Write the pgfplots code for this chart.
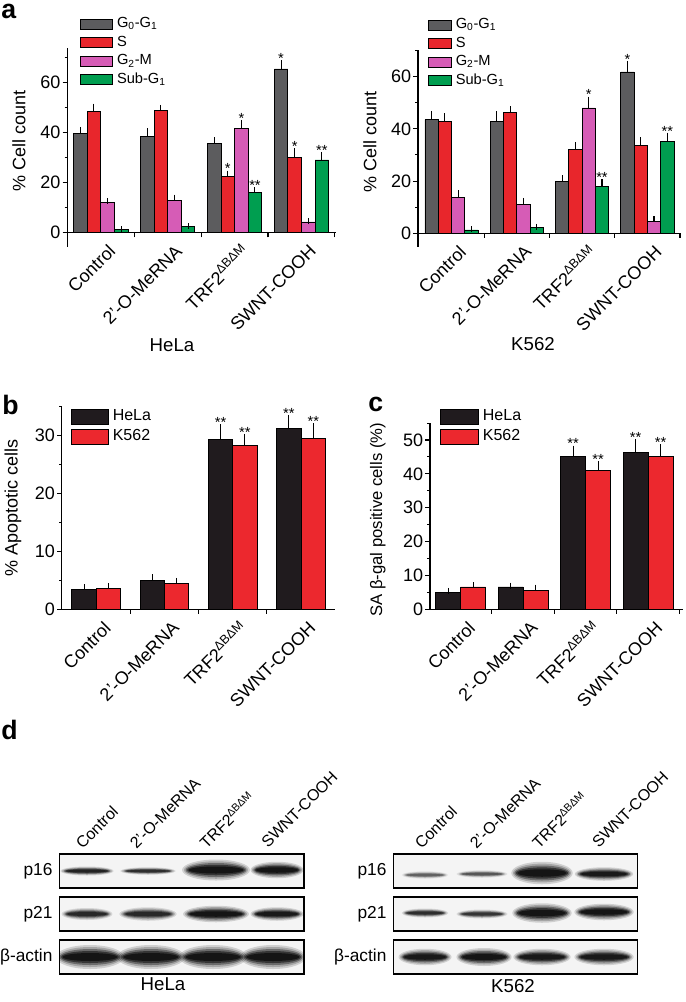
\documentclass[border=0pt]{standalone}
\usepackage{fontspec}
\setmainfont{Liberation Sans}
\usepackage{pgfplots}
\usepackage{pgfplotstable}
\pgfplotsset{compat=1.18}

\definecolor{cG}{RGB}{92,92,94}
\definecolor{cS}{RGB}{232,38,44}
\definecolor{cM}{RGB}{214,92,182}
\definecolor{cSub}{RGB}{0,158,80}
\definecolor{cHe}{RGB}{32,27,30}
\definecolor{cK}{RGB}{236,40,46}
\definecolor{blotbg}{RGB}{244,244,244}

\newcommand\fs[1]{\fontsize{#1}{#1}\selectfont}
\newcommand\trf{TRF2\textsuperscript{ΔBΔM}}

% cell cycle, HeLa and K562 (mean, error)
\pgfplotstableread{
x  G    Ge   S    Se   M    Me   Sub  Sube
0  39.7 1.5  48.5 2.0  12.0 0.7  1.3  0.2
1  38.4 2.3  48.8 1.2  12.8 1.3  2.4  0.3
2  35.6 1.4  22.4 1.3  41.7 2.3  16.0 1.1
3  65.5 2.4  30.1 2.6  4.3  0.3  29.1 2.1
}\aHeLa
\pgfplotstableread{
x  G    Ge   S    Se   M    Me   Sub  Sube
0  43.5 2.3  42.8 2.1  13.8 1.5  1.3  0.2
1  42.7 2.9  46.3 1.3  11.2 1.2  2.2  0.3
2  20.0 1.2  32.0 1.8  48.0 3.2  17.8 1.7
3  61.8 3.1  33.8 1.9  4.6  0.8  35.1 2.3
}\aK
% apoptosis
\pgfplotstableread{
x  He    Hee   K     Ke
0  3.44  0.40  3.67  0.35
1  5.00  0.56  4.42  0.50
2  29.37 2.07  28.30 1.50
3  31.27 1.80  29.50 2.10
}\bApo
% SA beta-gal
\pgfplotstableread{
x  He    Hee   K     Ke
0  5.1   0.4   6.6   0.5
1  6.6   0.4   5.5   0.9
2  45.1  2.4   41.1  1.8
3  46.2  3.1   45.1  2.7
}\cGal

% blot band: x-centre, y-centre, width, height, darkness (pixel units)
\newcommand\band[5]{%
  \foreach \sx/\sy/\op in {1.06/1.5/0.15, 1.0/1.25/0.2, 0.95/1.0/0.35, 0.9/0.75/0.5, 0.85/0.5/0.6}{%
    \fill[black, opacity=#5*\op] (#1,#2) ellipse ({#3/2*\sx} and {#4/2*\sy});
  }}

\def\legw{24pt}\def\legh{3.75pt}
\pgfplotsset{
  panel/.style={
    scale only axis, clip=false,
    axis y line*=left, axis x line*=bottom,
    axis line style={black, line width=0.9pt},
    tick align=outside,
    major tick length=3.5pt, minor tick length=2pt,
    every tick/.append style={black, line width=0.8pt},
    /pgf/number format/assume math mode=true,
    yticklabel style={font=\fs{13.5}, inner sep=0pt, xshift=-1.5pt},
    xtick={0.5,1.5,2.5,3.5}, xticklabels={,,,},
    extra x ticks={0,1,2,3},
    extra x tick labels={Control,2’-O-MeRNA,\trf,SWNT-COOH},
    extra x tick style={major tick length=0pt,
      xticklabel style={font=\fs{13.5}, inner sep=0pt, anchor=east, xshift=8.5pt, yshift=-11.5pt, rotate=45}},
    every axis y label/.style={rotate=90, anchor=center, font=\fs{13.5}},
    legend cell align=left,
    error bars/error bar style={black, line width=0.8pt},
    error bars/error mark options={black, line width=0.8pt, mark size=2.2pt},
  },
  bars/.style={ybar, bar shift=0pt, draw=black, line width=0.6pt, fill=#1,
    legend image code/.code={\draw[##1,/tikz/.cd,line width=0.6pt] (0pt,-\legh) rectangle (\legw,\legh);},
    error bars/y dir=plus, error bars/y explicit},
  stars/.style={only marks, mark=none, forget plot, nodes near coords,
    point meta=explicit symbolic,
    nodes near coords style={anchor=south, inner sep=0pt, font=\fs{11}, yshift=-0.5pt}},
}

\begin{document}
\begin{tikzpicture}
\useasboundingbox (0pt,0pt) rectangle (513.75pt,-751.5pt);

% ---------------- a: HeLa ----------------
\begin{axis}[panel, at={(50.48pt,-174.53pt)}, anchor=south west,
  width=201.7pt, height=138.3pt,
  xmin=-0.5, xmax=3.52, ymin=0, ymax=73.76,
  ytick={0,20,40,60}, minor ytick={10,30,50,70},
  bar width=0.203,
  ylabel={\% Cell count},
  every axis y label/.append style={at={(axis description cs:-0.18,0.5)}},
  legend style={at={(0.047,1.172)}, anchor=north west, draw=none, fill=none,
    inner sep=0pt, font=\fs{11}, row sep=3.2pt,
    nodes={inner sep=0pt, text height=8.2pt, text depth=2.5pt},
    /tikz/every odd column/.append style={column sep=3pt}},
]
\addplot[bars=cG] table[x expr=\thisrow{x}-0.305, y=G, y error=Ge] {\aHeLa};
\addlegendentry{G\textsubscript{0}-G\textsubscript{1}}
\addplot[bars=cS] table[x expr=\thisrow{x}-0.102, y=S, y error=Se] {\aHeLa};
\addlegendentry{S}
\addplot[bars=cM] table[x expr=\thisrow{x}+0.102, y=M, y error=Me] {\aHeLa};
\addlegendentry{G\textsubscript{2}-M}
\addplot[bars=cSub] table[x expr=\thisrow{x}+0.305, y=Sub, y error=Sube] {\aHeLa};
\addlegendentry{Sub-G\textsubscript{1}}
\addplot[stars] coordinates {(1.898,23.7) [*] (2.102,44.0) [*] (2.305,17.0) [**]
  (2.695,67.9) [*] (2.898,32.7) [*] (3.305,31.2) [**]};
\draw[black, line width=0.9pt] (rel axis cs:0,0) -- ++(0pt,-10.7pt);
\end{axis}

% ---------------- a: K562 ----------------
\def\legw{17.25pt}
\begin{axis}[panel, at={(313.5pt,-174.98pt)}, anchor=south west,
  width=196.5pt, height=137.5pt,
  xmin=-0.513, xmax=3.5, ymin=0, ymax=70.2,
  ytick={0,20,40,60}, minor ytick={10,30,50,70},
  bar width=0.203,
  ylabel={\% Cell count},
  every axis y label/.append style={at={(axis description cs:-0.183,0.5)}},
  legend style={at={(0.037,1.177)}, anchor=north west, draw=none, fill=none,
    inner sep=0pt, font=\fs{11}, row sep=3.2pt,
    nodes={inner sep=0pt, text height=8.2pt, text depth=2.5pt},
    /tikz/every odd column/.append style={column sep=3pt}},
]
\addplot[bars=cG] table[x expr=\thisrow{x}-0.305, y=G, y error=Ge] {\aK};
\addlegendentry{G\textsubscript{0}-G\textsubscript{1}}
\addplot[bars=cS] table[x expr=\thisrow{x}-0.102, y=S, y error=Se] {\aK};
\addlegendentry{S}
\addplot[bars=cM] table[x expr=\thisrow{x}+0.102, y=M, y error=Me] {\aK};
\addlegendentry{G\textsubscript{2}-M}
\addplot[bars=cSub] table[x expr=\thisrow{x}+0.305, y=Sub, y error=Sube] {\aK};
\addlegendentry{Sub-G\textsubscript{1}}
\addplot[stars] coordinates {(2.102,51.2) [*] (2.305,19.5) [**]
  (2.695,64.9) [*] (3.305,37.4) [**]};
\draw[black, line width=0.9pt] (rel axis cs:0,0) -- ++(0pt,-10pt);
\end{axis}

% ---------------- b ----------------
\def\legw{27.75pt}\def\legh{5.6pt}
\begin{axis}[panel, at={(46.28pt,-456.98pt)}, anchor=south west,
  width=205pt, height=151.95pt,
  xmin=-0.505, xmax=3.497, ymin=0, ymax=35,
  ytick={0,10,20,30}, minor ytick={5,15,25,35},
  bar width=0.356,
  ylabel={\% Apoptotic cells},
  every axis y label/.append style={at={(axis description cs:-0.178,0.5)}},
  legend style={at={(0.034,0.989)}, anchor=north west, draw=none, fill=none,
    inner sep=0pt, font=\fs{12}, row sep=3.15pt,
    nodes={inner sep=0pt, text height=8.5pt, text depth=3pt},
    /tikz/every odd column/.append style={column sep=2.8pt}},
]
\addplot[bars=cHe] table[x expr=\thisrow{x}-0.178, y=He, y error=Hee] {\bApo};
\addlegendentry{HeLa}
\addplot[bars=cK] table[x expr=\thisrow{x}+0.178, y=K, y error=Ke] {\bApo};
\addlegendentry{K562}
\addplot[stars] coordinates {(1.822,31.44) [**] (2.178,29.8) [**]
  (2.822,33.05) [**] (3.178,31.6) [**]};
\end{axis}

% ---------------- c ----------------
\def\legw{28.5pt}
\begin{axis}[panel, at={(322.5pt,-456.98pt)}, anchor=south west,
  width=189.75pt, height=139.95pt,
  xmin=-0.49, xmax=3.558, ymin=0, ymax=55.1,
  ytick={0,10,...,50}, minor ytick={5,15,...,55},
  bar width=0.4,
  ylabel={SA β-gal positive cells (\%)},
  every axis y label/.append style={at={(axis description cs:-0.206,0.48)}, font=\fs{12.5}},
  legend style={at={(0.04,1.073)}, anchor=north west, draw=none, fill=none,
    inner sep=0pt, font=\fs{12}, row sep=3.15pt,
    nodes={inner sep=0pt, text height=8.5pt, text depth=3pt},
    /tikz/every odd column/.append style={column sep=2.8pt}},
]
\addplot[bars=cHe] table[x expr=\thisrow{x}-0.2, y=He, y error=Hee] {\cGal};
\addlegendentry{HeLa}
\addplot[bars=cK] table[x expr=\thisrow{x}+0.2, y=K, y error=Ke] {\cGal};
\addlegendentry{K562}
\addplot[stars] coordinates {(1.8,47.5) [**] (2.2,42.9) [**]
  (2.8,49.3) [**] (3.2,47.8) [**]};
\end{axis}

% ---------------- texts, panel letters and blots (pixel units) ----------------
\begin{scope}[x=0.75pt, y=-0.75pt]
  \node[anchor=north west, inner sep=0pt, font=\fs{20}\bfseries] at (1,4) {a};
  \node[anchor=north west, inner sep=0pt, font=\fs{20}\bfseries] at (2,395) {b};
  \node[anchor=north west, inner sep=0pt, font=\fs{20}\bfseries] at (368,397) {c};
  \node[anchor=north west, inner sep=0pt, font=\fs{20}\bfseries] at (1,720) {d};
  \node[font=\fs{14}] at (172,345) {HeLa};
  \node[font=\fs{14}] at (533,344) {K562};

  % blot frames background
  \foreach \xl/\xr in {59.3/304, 393.3/637.7}{
    \foreach \yt/\yb in {854/888, 897/931, 940/974}{
      \fill[blotbg] (\xl,\yt) rectangle (\xr,\yb);
    }
  }
  % HeLa bands
  \begin{scope}
    \clip (59.3,854) rectangle (304,974);
    \band{87}{871}{50}{6}{0.85} \band{148}{871}{52}{5}{0.75}
    \band{216}{870}{64}{14}{1} \band{277}{870}{50}{11}{1}
    \band{87}{914}{48}{8}{0.8} \band{148}{914}{54}{9}{0.8}
    \band{216}{914}{62}{11}{1} \band{277}{914}{50}{9}{0.95}
    \band{90}{957}{64}{16}{1} \band{151}{957}{64}{16}{1}
    \band{213}{957}{64}{16}{1} \band{273}{957}{62}{16}{1}
  \end{scope}
  % K562 bands
  \begin{scope}
    \clip (393.3,854) rectangle (637.7,974);
    \band{425}{875}{44}{5}{0.45} \band{482}{874}{48}{5}{0.5}
    \band{542}{873}{58}{15}{1} \band{604}{874}{55}{9}{0.95}
    \band{425}{913}{44}{6}{0.75} \band{482}{914}{48}{6}{0.7}
    \band{542}{913}{56}{13}{1} \band{604}{912}{56}{11}{1}
    \band{425}{957}{50}{11}{0.95} \band{484}{957}{52}{12}{1}
    \band{542}{957}{54}{11}{0.95} \band{604}{957}{56}{11}{0.95}
  \end{scope}
  \foreach \xl/\xr in {59.3/304, 393.3/637.7}{
    \foreach \yt/\yb in {854/888, 897/931, 940/974}{
      \draw[black, line width=0.9pt] (\xl,\yt) rectangle (\xr,\yb);
    }
  }
  % blot row labels
  \foreach \xx in {52.7, 386.7}{
    \node[anchor=east, inner sep=0pt, font=\fs{13}] at (\xx,871) {p16};
    \node[anchor=east, inner sep=0pt, font=\fs{13}] at (\xx,914) {p21};
    \node[anchor=east, inner sep=0pt, font=\fs{13}] at (\xx,957) {β-actin};
  }
  % lane labels
  \foreach \xa/\xb/\xc/\xd in {82.7/136.7/206.7/268.3, 421.7/476.7/539/599}{
    \node[anchor=south west, inner sep=0pt, rotate=45, font=\fs{12}] at (\xa,850) {Control};
    \node[anchor=south west, inner sep=0pt, rotate=45, font=\fs{12}] at (\xb,850) {2’-O-MeRNA};
    \node[anchor=south west, inner sep=0pt, rotate=45, font=\fs{12}] at (\xc,850) {\trf};
    \node[anchor=south west, inner sep=0pt, rotate=45, font=\fs{12}] at (\xd,849) {SWNT-COOH};
  }
  \node[font=\fs{14}] at (163,984) {HeLa};
  \node[font=\fs{14}] at (513,986) {K562};
\end{scope}
\end{tikzpicture}
\end{document}
